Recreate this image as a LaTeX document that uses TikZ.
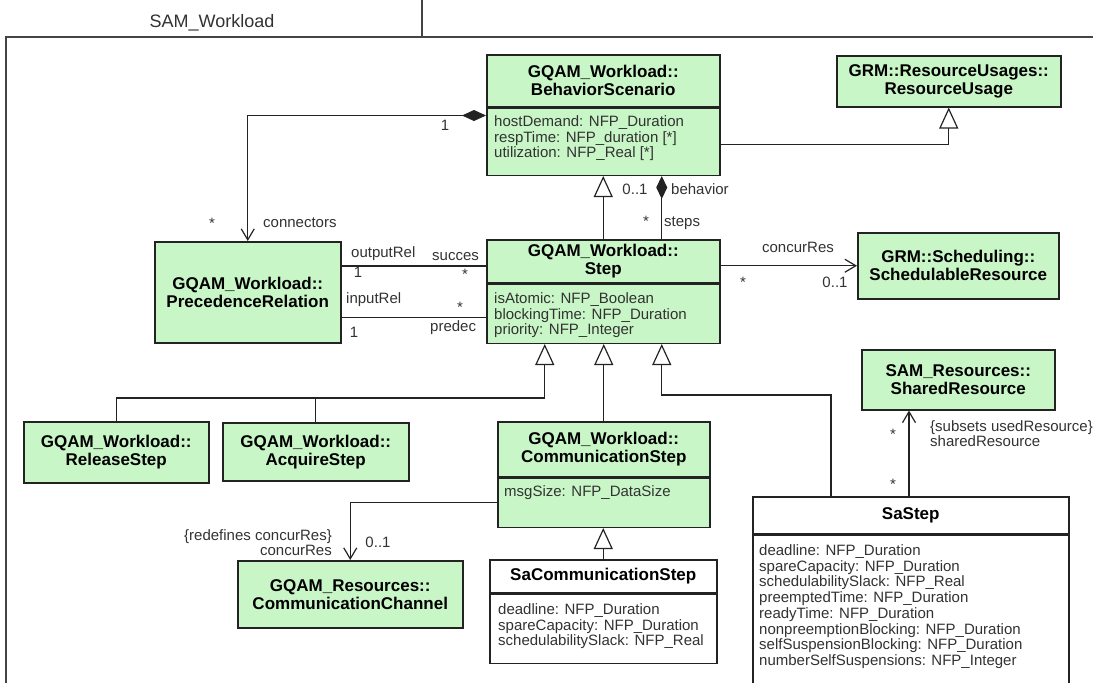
\documentclass[tikz,border=0pt]{standalone}
\usepackage{fontspec}
\setmainfont{Liberation Sans}
\usetikzlibrary{arrows.meta,positioning}
\definecolor{umlgreen}{RGB}{201,246,199}
\definecolor{edge}{RGB}{35,35,35}
\definecolor{ink}{RGB}{50,50,50}
\newcommand\headfont{\fontsize{17}{18}\selectfont\bfseries}
\newcommand\attrfont{\fontsize{15}{15.7}\selectfont}
\newcommand\lblfont{\fontsize{15}{16}\selectfont}

\begin{document}
\begin{tikzpicture}[x=1pt, y=-1pt,
  head/.style={draw=edge, fill=umlgreen, line width=1.5pt, align=center,
               inner sep=0pt, font=\headfont, anchor=north west},
  whitehead/.style={head, fill=white},
  body/.style={draw=edge, fill=umlgreen, line width=1.5pt, inner sep=0pt},
  attrs/.style={align=left, inner sep=0pt, anchor=north west, font=\attrfont, text=ink},
  lbl/.style={inner sep=0pt, anchor=base, font=\lblfont, text=ink},
  pkgline/.style={draw=edge!85, line width=1.5pt},
  assoc/.style={draw=edge, line width=1.2pt},
  gen/.style={assoc, -{Triangle[open, length=21pt, width=19pt]}},
  nav/.style={assoc, -{Straight Barb[length=11pt, width=13pt]}},
  comp/.style={assoc, {Diamond[length=23pt, width=11pt]}-},
  compnav/.style={assoc, {Diamond[length=24pt, width=11pt]}-{Straight Barb[length=11pt, width=13pt]}},
  node distance=0pt]
\useasboundingbox (0,0) rectangle (1093,683);
\clip (0,0) rectangle (1093,683);
\node[lbl, font=\fontsize{18}{20}\selectfont] (pkgName) at (212,27) {SAM\_Workload};
\draw[pkgline] (422,0) -- (422,37);
\draw[pkgline] (1093,37) -- (6,37) -- (6,683);

\node[head, minimum width=233pt, minimum height=52pt] (bsHead) at (486,54) {GQAM\_Workload::\\BehaviorScenario};
\node[body, minimum width=233pt, minimum height=67pt, below=of bsHead] (bsBody) {};
\node[attrs] (bsAttrs) at ([shift={(8pt,-8pt)}]bsBody.north west) {hostDemand: NFP\_Duration\\respTime: NFP\_duration [*]\\utilization: NFP\_Real [*]};
\node[head, minimum width=224pt, minimum height=51pt] (resUsage) at (836,55) {GRM::ResourceUsages::\\ResourceUsage};
\node[head, minimum width=186pt, minimum height=101pt] (precRel) at (154,241) {GQAM\_Workload::\\PrecedenceRelation};
\node[head, minimum width=233pt, minimum height=43pt] (stepHead) at (486,239) {GQAM\_Workload::\\Step};
\node[body, minimum width=233pt, minimum height=59pt, below=of stepHead] (stepBody) {};
\node[attrs] (stepAttrs) at ([shift={(8pt,-9pt)}]stepBody.north west) {isAtomic: NFP\_Boolean\\blockingTime: NFP\_Duration\\priority: NFP\_Integer};
\node[head, minimum width=201pt, minimum height=66pt] (schedRes) at (857,232) {GRM::Scheduling::\\SchedulableResource};
\node[head, minimum width=193pt, minimum height=60pt] (sharedRes) at (861,349) {SAM\_Resources::\\SharedResource};
\node[head, minimum width=185pt, minimum height=61pt] (relStep) at (23,421) {GQAM\_Workload::\\ReleaseStep};
\node[head, minimum width=186pt, minimum height=58pt] (acqStep) at (222,422) {GQAM\_Workload::\\AcquireStep};
\node[head, minimum width=212pt, minimum height=55pt] (commHead) at (497,421) {GQAM\_Workload::\\CommunicationStep};
\node[body, minimum width=212pt, minimum height=49pt, below=of commHead] (commBody) {};
\node[attrs] (commAttrs) at ([shift={(7pt,-8pt)}]commBody.north west) {msgSize: NFP\_DataSize};
\node[head, minimum width=225pt, minimum height=67pt] (commChan) at (237,560) {GQAM\_Resources::\\CommunicationChannel};
\node[whitehead, minimum width=227pt, minimum height=33pt] (saCommHead) at (489,559) {SaCommunicationStep};
\node[body, fill=white, minimum width=227pt, minimum height=69pt, below=of saCommHead] (saCommBody) {};
\node[attrs] (saCommAttrs) at ([shift={(9pt,-10pt)}]saCommBody.north west) {deadline: NFP\_Duration\\spareCapacity: NFP\_Duration\\schedulabilitySlack: NFP\_Real};
\node[whitehead, minimum width=316pt, minimum height=37pt] (saHead) at (752,496) {SaStep};
\node[body, fill=white, minimum width=316pt, minimum height=200pt, below=of saHead] (saBody) {};
\node[attrs] (saAttrs) at ([shift={(7pt,-10pt)}]saBody.north west) {deadline: NFP\_Duration\\spareCapacity: NFP\_Duration\\schedulabilitySlack: NFP\_Real\\preemptedTime: NFP\_Duration\\readyTime: NFP\_Duration\\nonpreemptionBlocking: NFP\_Duration\\selfSuspensionBlocking: NFP\_Duration\\numberSelfSuspensions: NFP\_Integer};

\coordinate (compBS) at ([yshift=-8pt]bsBody.north west);
\draw[compnav] (compBS) -| (precRel.north);
\node[lbl] (bsOne) at (445,130) {1};
\node[lbl] (connStar) at (212,228) {*};
\node[lbl, anchor=base west] (connName) at (263,227) {connectors};
\draw[gen] (stepHead.north) -- (stepHead.north |- bsBody.south);
\coordinate (compStep) at ([xshift=58.5pt]bsBody.south);
\draw[comp] (compStep) -- (compStep |- stepHead.north);
\node[lbl] (behMult) at (635,194) {0..1};
\node[lbl, anchor=base west] (behName) at (671,194) {behavior};
\node[lbl] (stepsStar) at (646,226) {*};
\node[lbl, anchor=base west] (stepsName) at (664,226) {steps};
\coordinate (genRU) at ([yshift=-37pt]bsBody.north east);
\draw[gen] (genRU) -| (resUsage.south);

\coordinate (outRel) at ([yshift=-25pt]precRel.north east);
\draw[assoc] (outRel) -- (outRel -| stepHead.west);
\node[lbl, anchor=base west] (outName) at (351,257) {outputRel};
\node[lbl, anchor=base west] (succName) at (432,260) {succes};
\node[lbl] (outOne) at (358,277) {1};
\node[lbl] (succStar) at (465,279) {*};
\coordinate (inRel) at ([yshift=26pt]precRel.south east);
\draw[assoc] (inRel) -- (inRel -| stepBody.west);
\node[lbl, anchor=base west] (inName) at (346,303) {inputRel};
\node[lbl] (predStar) at (460,312) {*};
\node[lbl] (inOne) at (354,337) {1};
\node[lbl, anchor=base west] (predName) at (430,331) {predec};

\draw[nav] (schedRes.west -| stepHead.east) -- (schedRes.west);
\node[lbl] (crName) at (798,252) {concurRes};
\node[lbl] (crStar) at (743,287) {*};
\node[lbl] (crMult) at (835,287) {0..1};

\coordinate (genL) at ([xshift=-58.5pt]stepBody.south);
\coordinate (joinL) at ([yshift=-54pt]genL);
\draw[gen] (relStep.north) |- (joinL) -- (genL);
\draw[assoc] (acqStep.north) -- (acqStep.north |- joinL);
\draw[gen] (commHead.north) -- (commHead.north |- stepBody.south);
\coordinate (genR) at ([xshift=58.5pt]stepBody.south);
\coordinate (saGen) at ([xshift=79pt]saHead.north west);
\draw[gen] (saGen) |- ([yshift=-51pt]genR) -- (genR);

\coordinate (saNav) at ([xshift=157pt]saHead.north west);
\draw[nav] (saNav) -- (saNav |- sharedRes.south);
\node[lbl] (shStarA) at (893,439) {*};
\node[lbl, anchor=base west] (shSubsets) at (930,431) {\{subsets usedResource\}};
\node[lbl, anchor=base west] (shName) at (930,446) {sharedResource};
\node[lbl] (shStarB) at (893,489) {*};

\draw[nav] (commBody.west) -| (commChan.north);
\node[lbl, anchor=base east] (chRedef) at (332,540) {\{redefines concurRes\}};
\node[lbl, anchor=base east] (chName) at (332,555) {concurRes};
\node[lbl] (chMult) at (378,547) {0..1};
\draw[gen] (saCommHead.north) -- (saCommHead.north |- commBody.south);
\end{tikzpicture}
\end{document}
